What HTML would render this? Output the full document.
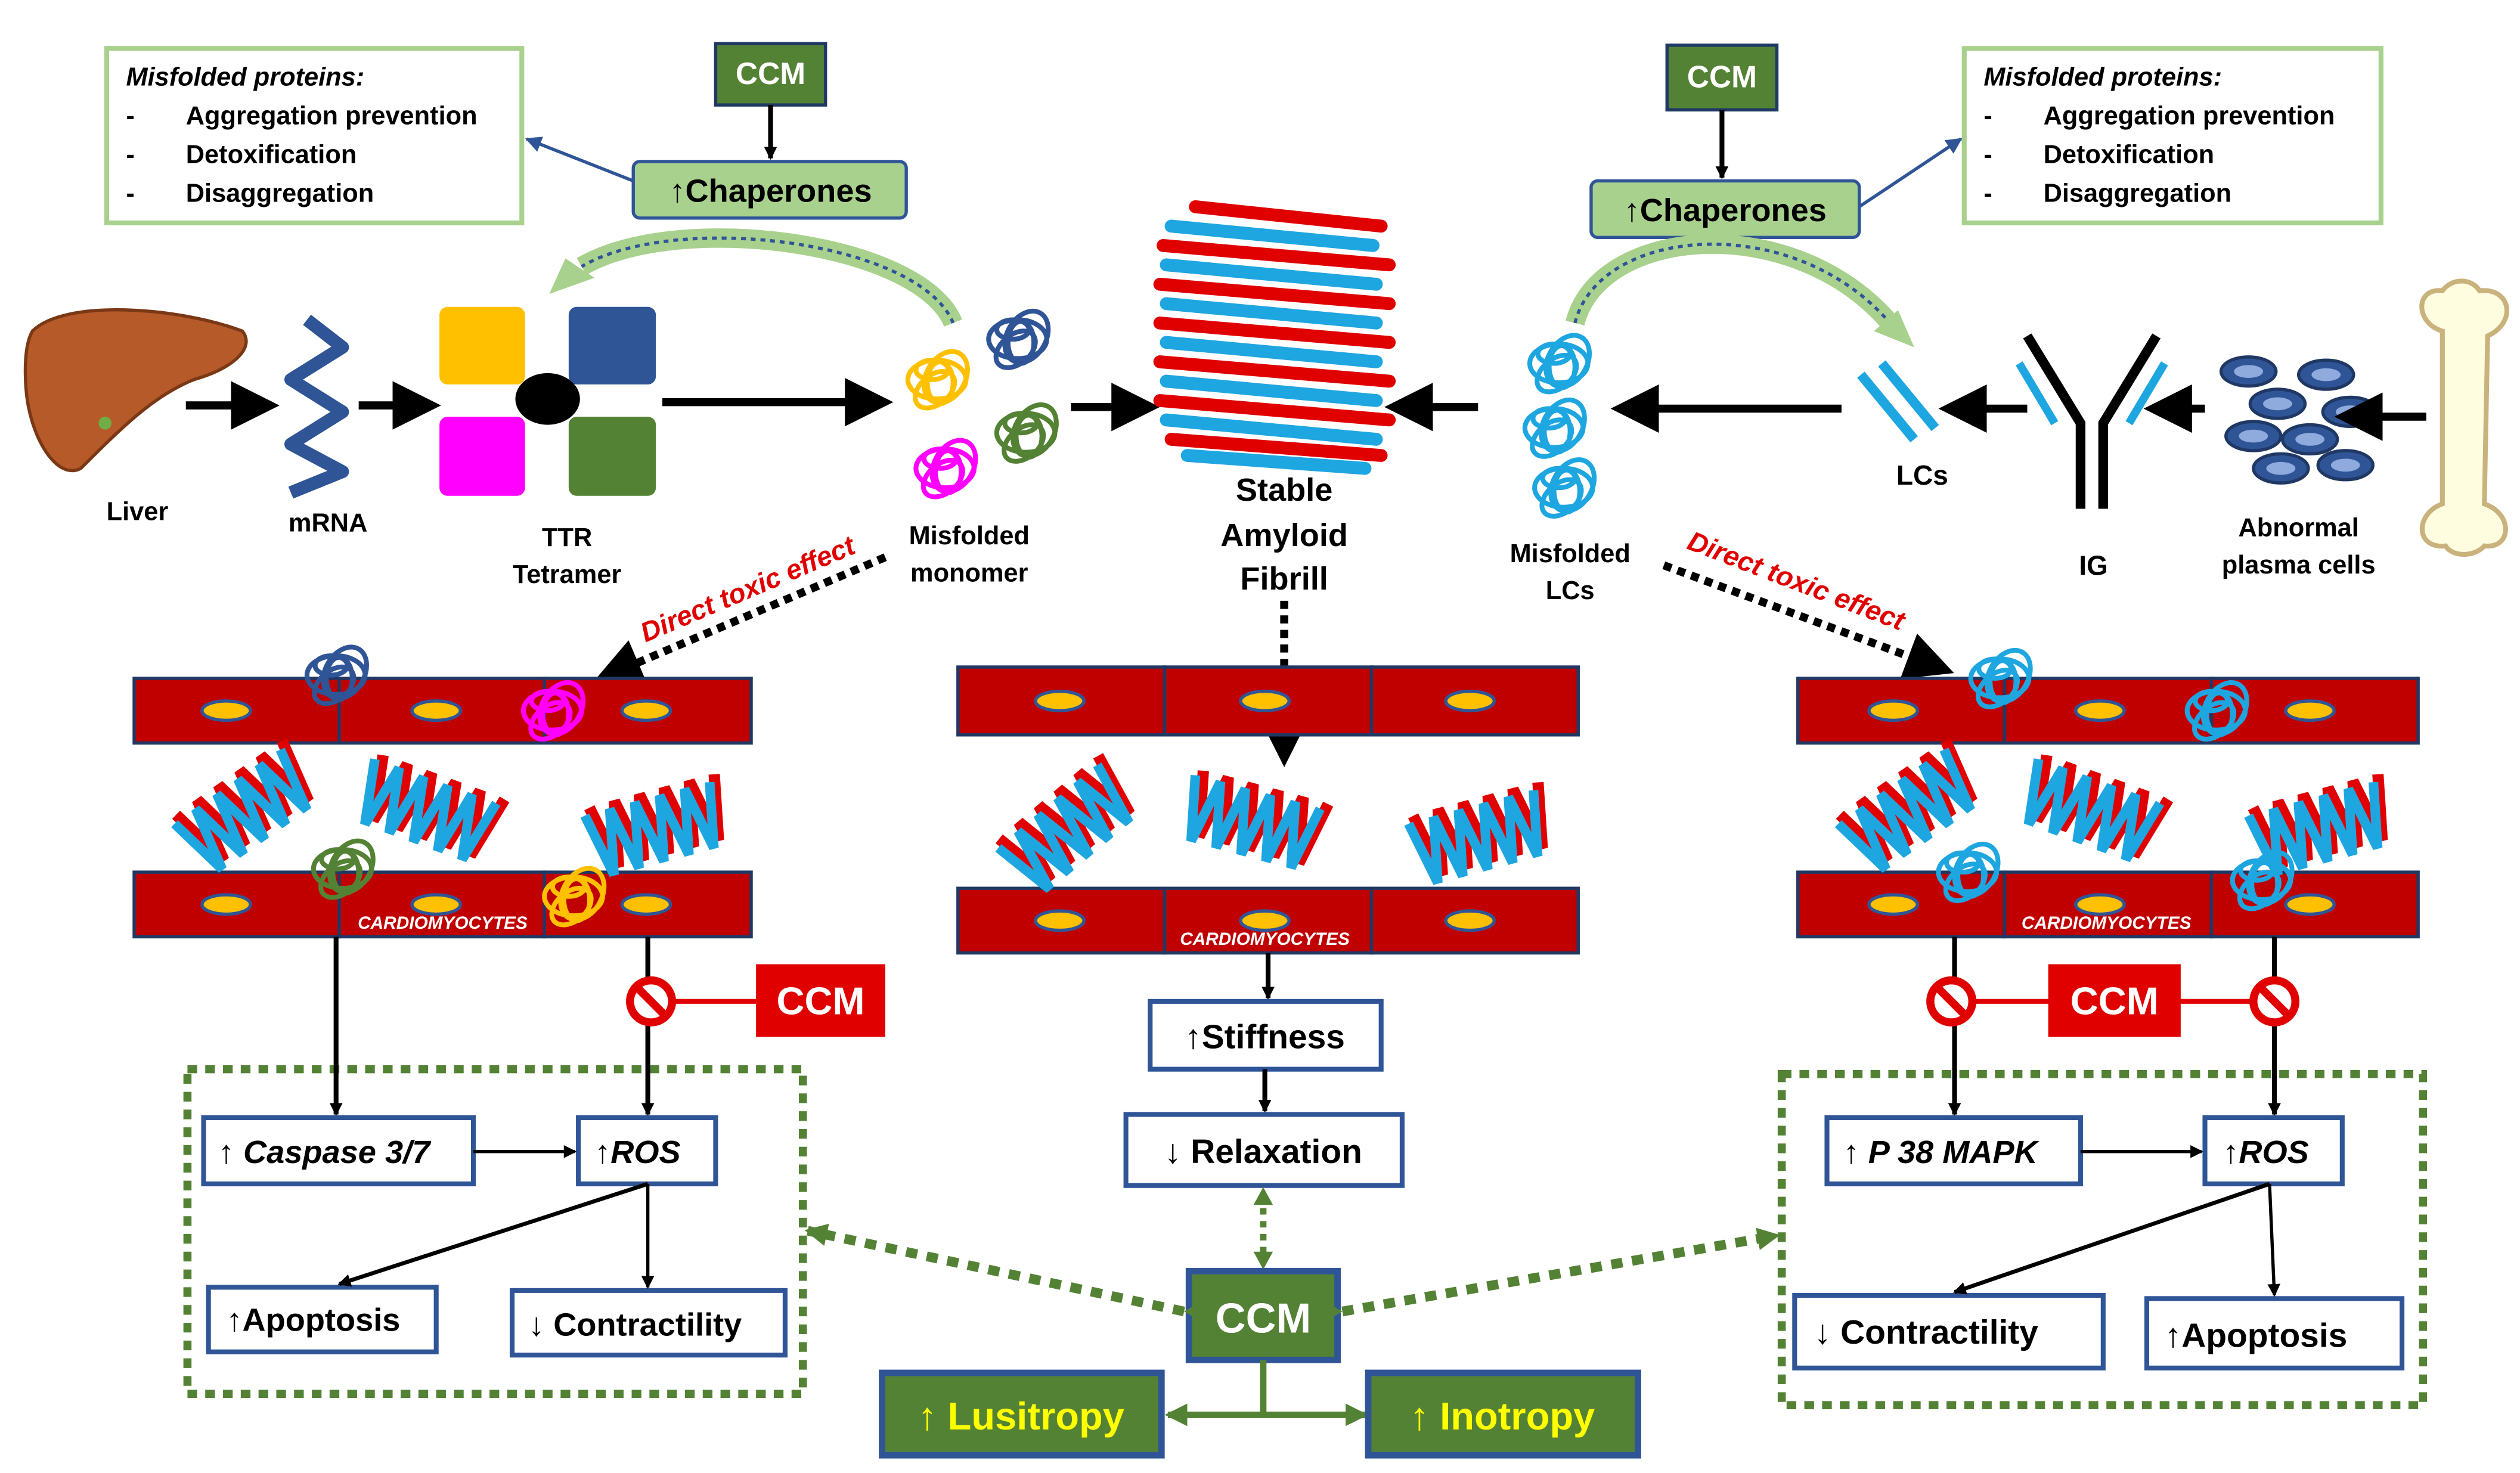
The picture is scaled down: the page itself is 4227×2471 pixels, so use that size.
<!DOCTYPE html>
<html><head><meta charset="utf-8"><style>
html,body{margin:0;padding:0;background:#fff}
svg{display:block}
text{font-family:"Liberation Sans",sans-serif;font-weight:bold}
</style></head><body>
<svg width="4227" height="2471" viewBox="0 0 1560 912" xmlns="http://www.w3.org/2000/svg">
<defs>
<marker id="ah" markerWidth="6" markerHeight="6" refX="5" refY="3" orient="auto" markerUnits="strokeWidth"><path d="M0,0 L6,3 L0,6 z" fill="#000"/></marker>
<marker id="ahs" markerWidth="8" markerHeight="8" refX="7" refY="4" orient="auto" markerUnits="userSpaceOnUse"><path d="M0,0 L8,4 L0,8 z" fill="#000"/></marker>
<marker id="ahb" markerWidth="10" markerHeight="10" refX="9" refY="5" orient="auto" markerUnits="userSpaceOnUse"><path d="M0,0 L10,5 L0,10 z" fill="#2f5597"/></marker>
<marker id="ahg" markerWidth="14" markerHeight="14" refX="12" refY="7" orient="auto" markerUnits="userSpaceOnUse"><path d="M0,0 L14,7 L0,14 z" fill="#548235"/></marker>
<g id="fib">
<polyline points="0,0 8,40 16,0 24,40 32,0 40,40 48,0 56,40 64,0 72,40 80,0" fill="none" stroke="#e00000" stroke-width="7" transform="translate(4,-4)"/>
<polyline points="0,0 8,40 16,0 24,40 32,0 40,40 48,0 56,40 64,0 72,40 80,0" fill="none" stroke="#1ea6e0" stroke-width="6"/>
</g>
<g id="cell"><ellipse cx="0" cy="0" rx="15" ry="6" fill="#ffc000" stroke="#2f5597" stroke-width="2"/></g>
<g id="scr">
<ellipse cx="0" cy="0" rx="18" ry="12" fill="none" stroke-width="3"/>
<ellipse cx="4" cy="-4" rx="12" ry="17" fill="none" stroke-width="3" transform="rotate(30)"/>
<ellipse cx="-5" cy="4" rx="14" ry="9" fill="none" stroke-width="3" transform="rotate(-40)"/>
<ellipse cx="2" cy="2" rx="8" ry="13" fill="none" stroke-width="3"/>
<ellipse cx="-3" cy="-6" rx="10" ry="6" fill="none" stroke-width="3"/>
</g>
</defs>

<!-- top info boxes -->
<rect x="66" y="30" width="257" height="108" fill="#fff" stroke="#a9d18e" stroke-width="3"/>
<text x="78" y="53" font-size="16" font-style="italic">Misfolded proteins:</text>
<text x="78" y="77" font-size="16">-</text><text x="115" y="77" font-size="16">Aggregation prevention</text>
<text x="78" y="101" font-size="16">-</text><text x="115" y="101" font-size="16">Detoxification</text>
<text x="78" y="125" font-size="16">-</text><text x="115" y="125" font-size="16">Disaggregation</text>

<rect x="1216" y="30" width="258" height="108" fill="#fff" stroke="#a9d18e" stroke-width="3"/>
<text x="1228" y="53" font-size="16" font-style="italic">Misfolded proteins:</text>
<text x="1228" y="77" font-size="16">-</text><text x="1265" y="77" font-size="16">Aggregation prevention</text>
<text x="1228" y="101" font-size="16">-</text><text x="1265" y="101" font-size="16">Detoxification</text>
<text x="1228" y="125" font-size="16">-</text><text x="1265" y="125" font-size="16">Disaggregation</text>

<!-- CCM + chaperones -->
<rect x="443" y="27" width="68" height="38" fill="#548235" stroke="#1f3864" stroke-width="2"/>
<text x="477" y="52" font-size="19" fill="#fff" text-anchor="middle">CCM</text>
<line x1="477" y1="65" x2="477" y2="98" stroke="#000" stroke-width="3" marker-end="url(#ahs)"/>
<rect x="392" y="100" width="169" height="35" rx="4" fill="#a9d18e" stroke="#2f5597" stroke-width="2"/>
<text x="477" y="125" font-size="20" text-anchor="middle">↑Chaperones</text>
<line x1="392" y1="112" x2="326" y2="86" stroke="#2f5597" stroke-width="2" marker-end="url(#ahb)"/>

<rect x="1032" y="28" width="68" height="40" fill="#548235" stroke="#1f3864" stroke-width="2"/>
<text x="1066" y="54" font-size="19" fill="#fff" text-anchor="middle">CCM</text>
<line x1="1066" y1="68" x2="1066" y2="110" stroke="#000" stroke-width="3" marker-end="url(#ahs)"/>
<rect x="985" y="112" width="166" height="35" rx="4" fill="#a9d18e" stroke="#2f5597" stroke-width="2"/>
<text x="1068" y="137" font-size="20" text-anchor="middle">↑Chaperones</text>
<line x1="1151" y1="128" x2="1214" y2="86" stroke="#2f5597" stroke-width="2" marker-end="url(#ahb)"/>

<!-- curved chaperone arrows -->
<path d="M590,200 C570,150 420,130 360,165" fill="none" stroke="#a9d18e" stroke-width="12"/>
<path d="M590,200 C570,150 420,130 360,165" fill="none" stroke="#2f5597" stroke-width="2" stroke-dasharray="3,3"/>
<path d="M340,182 L350,160 L368,172 z" fill="#a9d18e"/>
<path d="M975,200 C990,140 1110,130 1170,200" fill="none" stroke="#a9d18e" stroke-width="12"/>
<path d="M975,200 C990,140 1110,130 1170,200" fill="none" stroke="#2f5597" stroke-width="2" stroke-dasharray="3,3"/>
<path d="M1185,215 L1160,205 L1175,192 z" fill="#a9d18e"/>

<!-- liver -->
<path d="M20,205 C40,185 110,190 150,205 C158,215 145,228 120,235 C95,245 75,265 50,290 C35,298 18,270 16,240 C15,225 16,212 20,205 z" fill="#b65a2a" stroke="#7a3815" stroke-width="2"/>
<circle cx="65" cy="262" r="4" fill="#70ad47"/>
<text x="85" y="322" font-size="16" text-anchor="middle">Liver</text>
<line x1="115" y1="251" x2="168" y2="251" stroke="#000" stroke-width="5" marker-end="url(#ah)"/>

<!-- mRNA -->
<path d="M190,198 L212,215 L180,235 L212,255 L180,275 L212,292 L180,305" fill="none" stroke="#2f5597" stroke-width="8" stroke-linejoin="round"/>
<text x="203" y="329" font-size="16" text-anchor="middle">mRNA</text>
<line x1="222" y1="251" x2="268" y2="251" stroke="#000" stroke-width="5" marker-end="url(#ah)"/>

<!-- TTR -->
<rect x="272" y="190" width="53" height="48" rx="5" fill="#ffc000"/>
<rect x="352" y="190" width="54" height="48" rx="5" fill="#2f5597"/>
<rect x="272" y="258" width="53" height="49" rx="5" fill="#ff00ff"/>
<rect x="352" y="258" width="54" height="49" rx="5" fill="#548235"/>
<ellipse cx="339" cy="247" rx="20" ry="16" fill="#000"/>
<text x="351" y="338" font-size="16" text-anchor="middle">TTR</text>
<text x="351" y="361" font-size="16" text-anchor="middle">Tetramer</text>
<line x1="410" y1="249" x2="548" y2="249" stroke="#000" stroke-width="5" marker-end="url(#ah)"/>

<!-- misfolded monomer -->
<use href="#scr" x="580" y="235" stroke="#ffc000"/>
<use href="#scr" x="630" y="210" stroke="#2f5597"/>
<use href="#scr" x="585" y="290" stroke="#ff00ff"/>
<use href="#scr" x="635" y="268" stroke="#548235"/>
<text x="600" y="337" font-size="16" text-anchor="middle">Misfolded</text>
<text x="600" y="360" font-size="16" text-anchor="middle">monomer</text>
<line x1="663" y1="252" x2="713" y2="252" stroke="#000" stroke-width="5" marker-end="url(#ah)"/>

<!-- big fibril -->
<g stroke-width="8" stroke-linecap="round">
<line x1="740" y1="128" x2="855" y2="140" stroke="#e00000"/>
<line x1="725" y1="140" x2="850" y2="152" stroke="#1ea6e0"/>
<line x1="720" y1="152" x2="860" y2="164" stroke="#e00000"/>
<line x1="722" y1="164" x2="852" y2="176" stroke="#1ea6e0"/>
<line x1="718" y1="176" x2="860" y2="188" stroke="#e00000"/>
<line x1="722" y1="188" x2="852" y2="200" stroke="#1ea6e0"/>
<line x1="718" y1="200" x2="860" y2="212" stroke="#e00000"/>
<line x1="722" y1="212" x2="852" y2="224" stroke="#1ea6e0"/>
<line x1="718" y1="224" x2="860" y2="236" stroke="#e00000"/>
<line x1="722" y1="236" x2="852" y2="248" stroke="#1ea6e0"/>
<line x1="718" y1="248" x2="860" y2="260" stroke="#e00000"/>
<line x1="722" y1="260" x2="852" y2="272" stroke="#1ea6e0"/>
<line x1="725" y1="272" x2="855" y2="282" stroke="#e00000"/>
<line x1="735" y1="282" x2="845" y2="290" stroke="#1ea6e0"/>
</g>
<text x="795" y="310" font-size="20" text-anchor="middle">Stable</text>
<text x="795" y="338" font-size="20" text-anchor="middle">Amyloid</text>
<text x="795" y="365" font-size="20" text-anchor="middle">Fibrill</text>
<line x1="915" y1="252" x2="862" y2="252" stroke="#000" stroke-width="5" marker-end="url(#ah)"/>

<!-- misfolded LCs -->
<use href="#scr" x="965" y="225" stroke="#1ea6e0"/>
<use href="#scr" x="962" y="265" stroke="#1ea6e0"/>
<use href="#scr" x="968" y="302" stroke="#1ea6e0"/>
<text x="972" y="348" font-size="16" text-anchor="middle">Misfolded</text>
<text x="972" y="371" font-size="16" text-anchor="middle">LCs</text>
<line x1="1140" y1="253" x2="1002" y2="253" stroke="#000" stroke-width="5" marker-end="url(#ah)"/>

<!-- LCs -->
<line x1="1152" y1="232" x2="1185" y2="272" stroke="#1ea6e0" stroke-width="6"/>
<line x1="1165" y1="225" x2="1198" y2="265" stroke="#1ea6e0" stroke-width="6"/>
<text x="1190" y="300" font-size="17" text-anchor="middle">LCs</text>
<line x1="1255" y1="253" x2="1205" y2="253" stroke="#000" stroke-width="5" marker-end="url(#ah)"/>

<!-- IG -->
<path d="M1255,208 L1288,262 L1288,315 M1335,208 L1302,262 L1302,315" fill="none" stroke="#000" stroke-width="6"/>
<line x1="1250" y1="225" x2="1272" y2="262" stroke="#1ea6e0" stroke-width="5"/>
<line x1="1340" y1="225" x2="1318" y2="262" stroke="#1ea6e0" stroke-width="5"/>
<text x="1296" y="356" font-size="17" text-anchor="middle">IG</text>
<line x1="1365" y1="253" x2="1332" y2="253" stroke="#000" stroke-width="5" marker-end="url(#ah)"/>

<!-- plasma cells -->
<g fill="#2f5597" stroke="#1f3864" stroke-width="2">
<ellipse cx="1392" cy="230" rx="17" ry="9"/><ellipse cx="1440" cy="232" rx="17" ry="9"/>
<ellipse cx="1410" cy="250" rx="17" ry="9"/><ellipse cx="1455" cy="255" rx="17" ry="9"/>
<ellipse cx="1395" cy="270" rx="17" ry="9"/><ellipse cx="1430" cy="272" rx="17" ry="9"/>
<ellipse cx="1412" cy="290" rx="17" ry="9"/><ellipse cx="1452" cy="288" rx="17" ry="9"/>
</g>
<g fill="#8faadc"><ellipse cx="1392" cy="230" rx="9" ry="4"/><ellipse cx="1440" cy="232" rx="9" ry="4"/><ellipse cx="1410" cy="250" rx="9" ry="4"/><ellipse cx="1455" cy="255" rx="9" ry="4"/><ellipse cx="1395" cy="270" rx="9" ry="4"/><ellipse cx="1430" cy="272" rx="9" ry="4"/><ellipse cx="1412" cy="290" rx="9" ry="4"/><ellipse cx="1452" cy="288" rx="9" ry="4"/></g>
<text x="1423" y="332" font-size="16" text-anchor="middle">Abnormal</text>
<text x="1423" y="355" font-size="16" text-anchor="middle">plasma cells</text>
<line x1="1502" y1="258" x2="1450" y2="258" stroke="#000" stroke-width="5" marker-end="url(#ah)"/>

<!-- bone -->
<path d="M1512,205 C1495,200 1495,178 1512,180 C1518,172 1530,172 1535,180 C1555,178 1558,200 1540,208 L1538,312 C1556,318 1555,340 1538,338 C1532,345 1518,345 1514,338 C1495,340 1495,318 1512,312 z" fill="#fffde0" stroke="#c9b27c" stroke-width="3"/>

<!-- direct toxic effect -->
<line x1="548" y1="345" x2="372" y2="420" stroke="#000" stroke-width="5" stroke-dasharray="5,4" marker-end="url(#ah)"/>
<text x="465" y="370" font-size="17" fill="#e00000" font-style="italic" text-anchor="middle" transform="rotate(-23 465 370)">Direct toxic effect</text>
<line x1="1030" y1="350" x2="1205" y2="415" stroke="#000" stroke-width="5" stroke-dasharray="5,4" marker-end="url(#ah)"/>
<text x="1110" y="365" font-size="17" fill="#e00000" font-style="italic" text-anchor="middle" transform="rotate(21 1110 365)">Direct toxic effect</text>
<line x1="795" y1="372" x2="795" y2="470" stroke="#000" stroke-width="5" stroke-dasharray="5,4" marker-end="url(#ah)"/>

<!-- muscle panels -->
<g stroke="#1f3864" stroke-width="2" fill="#c00000">
<rect x="83" y="420" width="127" height="40"/><rect x="210" y="420" width="127" height="40"/><rect x="337" y="420" width="128" height="40"/>
<rect x="83" y="540" width="127" height="40"/><rect x="210" y="540" width="127" height="40"/><rect x="337" y="540" width="128" height="40"/>
<rect x="593" y="413" width="128" height="42"/><rect x="721" y="413" width="128" height="42"/><rect x="849" y="413" width="128" height="42"/>
<rect x="593" y="550" width="128" height="40"/><rect x="721" y="550" width="128" height="40"/><rect x="849" y="550" width="128" height="40"/>
<rect x="1113" y="420" width="128" height="40"/><rect x="1241" y="420" width="128" height="40"/><rect x="1369" y="420" width="128" height="40"/>
<rect x="1113" y="540" width="128" height="40"/><rect x="1241" y="540" width="128" height="40"/><rect x="1369" y="540" width="128" height="40"/>
</g>
<use href="#cell" x="140" y="440"/><use href="#cell" x="270" y="440"/><use href="#cell" x="400" y="440"/>
<use href="#cell" x="140" y="560"/><use href="#cell" x="270" y="560"/><use href="#cell" x="400" y="560"/>
<use href="#cell" x="656" y="434"/><use href="#cell" x="783" y="434"/><use href="#cell" x="910" y="434"/>
<use href="#cell" x="656" y="570"/><use href="#cell" x="783" y="570"/><use href="#cell" x="910" y="570"/>
<use href="#cell" x="1172" y="440"/><use href="#cell" x="1300" y="440"/><use href="#cell" x="1430" y="440"/>
<use href="#cell" x="1172" y="560"/><use href="#cell" x="1300" y="560"/><use href="#cell" x="1430" y="560"/>
<text x="274" y="575" font-size="11" fill="#fff" font-style="italic" text-anchor="middle">CARDIOMYOCYTES</text>
<text x="783" y="585" font-size="11" fill="#fff" font-style="italic" text-anchor="middle">CARDIOMYOCYTES</text>
<text x="1304" y="575" font-size="11" fill="#fff" font-style="italic" text-anchor="middle">CARDIOMYOCYTES</text>

<!-- small fibrils -->
<use href="#fib" transform="translate(108,510) rotate(-35)"/>
<use href="#fib" transform="translate(232,470) rotate(20)"/>
<use href="#fib" transform="translate(362,505) rotate(-15)"/>
<use href="#fib" transform="translate(618,525) rotate(-40)"/>
<use href="#fib" transform="translate(740,480) rotate(15)"/>
<use href="#fib" transform="translate(872,510) rotate(-15)"/>
<use href="#fib" transform="translate(1138,510) rotate(-35)"/>
<use href="#fib" transform="translate(1262,470) rotate(20)"/>
<use href="#fib" transform="translate(1392,505) rotate(-15)"/>

<!-- scribbles on muscle -->
<use href="#scr" x="208" y="418" stroke="#2f5597"/>
<use href="#scr" x="342" y="440" stroke="#ff00ff"/>
<use href="#scr" x="212" y="538" stroke="#548235"/>
<use href="#scr" x="355" y="555" stroke="#ffc000"/>
<use href="#scr" x="1238" y="420" stroke="#1ea6e0"/>
<use href="#scr" x="1372" y="440" stroke="#1ea6e0"/>
<use href="#scr" x="1218" y="540" stroke="#1ea6e0"/>
<use href="#scr" x="1400" y="545" stroke="#1ea6e0"/>

<!-- left lower -->
<rect x="116" y="662" width="381" height="201" fill="none" stroke="#548235" stroke-width="5" stroke-dasharray="6,5"/>
<line x1="208" y1="580" x2="208" y2="690" stroke="#000" stroke-width="3" marker-end="url(#ahs)"/>
<line x1="401" y1="580" x2="401" y2="690" stroke="#000" stroke-width="3" marker-end="url(#ahs)"/>
<line x1="415" y1="620" x2="468" y2="620" stroke="#e00000" stroke-width="3"/>
<circle cx="403" cy="620" r="13" fill="#fff" stroke="#e00000" stroke-width="5"/><line x1="394" y1="611" x2="412" y2="629" stroke="#e00000" stroke-width="5"/>
<rect x="468" y="597" width="80" height="45" fill="#e00000"/>
<text x="508" y="628" font-size="24" fill="#fff" text-anchor="middle" font-weight="normal">CCM</text>
<g fill="#fff" stroke="#2f5597" stroke-width="3">
<rect x="126" y="692" width="167" height="41"/><rect x="358" y="692" width="85" height="41"/>
<rect x="129" y="797" width="141" height="40"/><rect x="317" y="799" width="169" height="40"/>
</g>
<text x="135" y="720" font-size="20" font-style="italic">↑ Caspase 3/7</text>
<text x="368" y="720" font-size="20" font-style="italic">↑ROS</text>
<text x="140" y="824" font-size="20">↑Apoptosis</text>
<text x="327" y="827" font-size="20">↓ Contractility</text>
<line x1="293" y1="713" x2="356" y2="713" stroke="#000" stroke-width="2" marker-end="url(#ahs)"/>
<line x1="401" y1="733" x2="210" y2="795" stroke="#000" stroke-width="2.5" marker-end="url(#ahs)"/>
<line x1="401" y1="733" x2="401" y2="797" stroke="#000" stroke-width="2" marker-end="url(#ahs)"/>

<!-- middle lower -->
<line x1="785" y1="590" x2="785" y2="618" stroke="#000" stroke-width="3" marker-end="url(#ahs)"/>
<rect x="712" y="620" width="143" height="42" fill="#fff" stroke="#2f5597" stroke-width="3"/>
<text x="783" y="649" font-size="21" text-anchor="middle">↑Stiffness</text>
<line x1="783" y1="662" x2="783" y2="688" stroke="#000" stroke-width="3" marker-end="url(#ahs)"/>
<rect x="697" y="690" width="171" height="44" fill="#fff" stroke="#2f5597" stroke-width="3"/>
<text x="782" y="720" font-size="21" text-anchor="middle">↓ Relaxation</text>
<line x1="782" y1="740" x2="782" y2="782" stroke="#548235" stroke-width="4" stroke-dasharray="4,4"/>
<path d="M782,735 L776,746 L788,746 z M782,786 L776,775 L788,775 z" fill="#548235"/>
<rect x="736" y="787" width="92" height="55" fill="#548235" stroke="#2f5597" stroke-width="4"/>
<text x="782" y="825" font-size="26" fill="#fff" text-anchor="middle">CCM</text>
<line x1="733" y1="812" x2="500" y2="762" stroke="#548235" stroke-width="6" stroke-dasharray="7,6" marker-end="url(#ahg)"/>
<line x1="831" y1="812" x2="1100" y2="765" stroke="#548235" stroke-width="6" stroke-dasharray="7,6" marker-end="url(#ahg)"/>
<path d="M733,812 L745,805 L745,819 z M831,812 L819,805 L819,819 z" fill="#548235"/>
<line x1="782" y1="842" x2="782" y2="876" stroke="#548235" stroke-width="4"/>
<line x1="782" y1="876" x2="723" y2="876" stroke="#548235" stroke-width="4" marker-end="url(#ahg)"/>
<line x1="782" y1="876" x2="845" y2="876" stroke="#548235" stroke-width="4" marker-end="url(#ahg)"/>
<rect x="546" y="850" width="173" height="51" fill="#548235" stroke="#2f5597" stroke-width="4"/>
<text x="632" y="885" font-size="24" fill="#ffff00" text-anchor="middle">↑ Lusitropy</text>
<rect x="847" y="850" width="167" height="51" fill="#548235" stroke="#2f5597" stroke-width="4"/>
<text x="930" y="885" font-size="24" fill="#ffff00" text-anchor="middle">↑ Inotropy</text>

<!-- right lower -->
<rect x="1103" y="665" width="397" height="205" fill="none" stroke="#548235" stroke-width="5" stroke-dasharray="6,5"/>
<line x1="1210" y1="580" x2="1210" y2="690" stroke="#000" stroke-width="3" marker-end="url(#ahs)"/>
<line x1="1408" y1="580" x2="1408" y2="690" stroke="#000" stroke-width="3" marker-end="url(#ahs)"/>
<line x1="1222" y1="620" x2="1396" y2="620" stroke="#e00000" stroke-width="3"/>
<circle cx="1208" cy="620" r="13" fill="#fff" stroke="#e00000" stroke-width="5"/><line x1="1199" y1="611" x2="1217" y2="629" stroke="#e00000" stroke-width="5"/>
<circle cx="1408" cy="620" r="13" fill="#fff" stroke="#e00000" stroke-width="5"/><line x1="1399" y1="611" x2="1417" y2="629" stroke="#e00000" stroke-width="5"/>
<rect x="1268" y="597" width="82" height="45" fill="#e00000"/>
<text x="1309" y="628" font-size="24" fill="#fff" text-anchor="middle" font-weight="normal">CCM</text>
<g fill="#fff" stroke="#2f5597" stroke-width="3">
<rect x="1131" y="692" width="157" height="41"/><rect x="1365" y="692" width="85" height="41"/>
<rect x="1111" y="802" width="191" height="45"/><rect x="1329" y="804" width="158" height="43"/>
</g>
<text x="1141" y="720" font-size="20" font-style="italic">↑ P 38 MAPK</text>
<text x="1376" y="720" font-size="20" font-style="italic">↑ROS</text>
<text x="1123" y="832" font-size="21">↓ Contractility</text>
<text x="1340" y="834" font-size="21">↑Apoptosis</text>
<line x1="1288" y1="713" x2="1363" y2="713" stroke="#000" stroke-width="2" marker-end="url(#ahs)"/>
<line x1="1405" y1="733" x2="1210" y2="800" stroke="#000" stroke-width="2.5" marker-end="url(#ahs)"/>
<line x1="1405" y1="733" x2="1408" y2="802" stroke="#000" stroke-width="2" marker-end="url(#ahs)"/>
</svg>
</body></html>
